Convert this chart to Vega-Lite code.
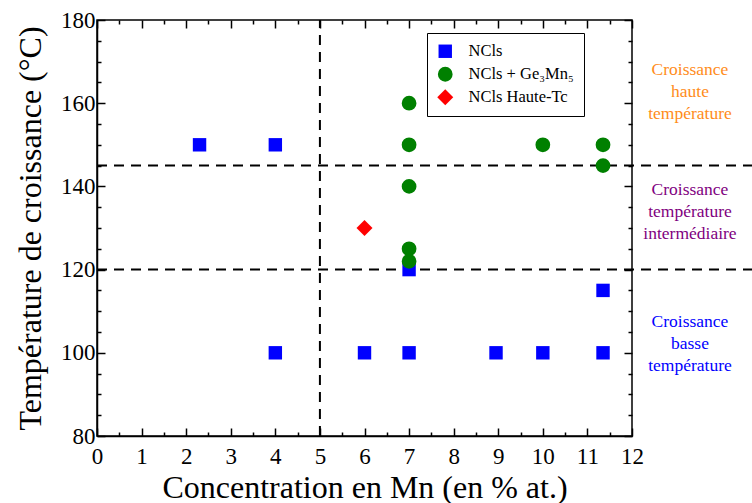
{
  "$schema": "https://vega.github.io/schema/vega-lite/v6.json",
  "width": 535,
  "height": 416,
  "autosize": {"type": "none"},
  "padding": {"left": 97, "top": 20, "right": 120, "bottom": 67},
  "background": "white",
  "config": {
    "view": {"stroke": "black", "strokeWidth": 1.5},
    "font": "Liberation Serif",
    "axis": {
      "grid": false,
      "domainColor": "black",
      "domainWidth": 1.5,
      "tickColor": "black",
      "tickWidth": 1.5,
      "labelColor": "black",
      "labelFont": "Liberation Serif",
      "labelFontSize": 23,
      "titleFont": "Liberation Serif",
      "titleFontSize": 32,
      "titleFontWeight": "normal",
      "titleColor": "black"
    },
    "legend": {
      "orient": "none", "legendX": 330, "legendY": 13,
      "strokeColor": "black", "fillColor": "white", "padding": 10,
      "labelFont": "Liberation Serif", "labelFontSize": 16.5, "labelColor": "black",
      "rowPadding": 6, "labelOffset": 15, "symbolOpacity": 1, "symbolStrokeWidth": 0
    }
  },
  "resolve": {"axis": {"x": "independent", "y": "independent"}},
  "layer": [
    {
      "data": {"values": [{"t": 120}, {"t": 145}]},
      "mark": {"type": "rule", "strokeDash": [10, 7], "strokeWidth": 2, "color": "black", "clip": false},
      "encoding": {
        "y": {"field": "t", "type": "quantitative", "axis": null},
        "x": {"datum": 0, "type": "quantitative", "axis": null},
        "x2": {"datum": 14.7}
      }
    },
    {
      "data": {"values": [{"c": 5}]},
      "mark": {"type": "rule", "strokeDash": [10, 7], "strokeWidth": 2, "color": "black"},
      "encoding": {
        "x": {"field": "c", "type": "quantitative", "axis": null},
        "y": {"datum": 80, "type": "quantitative", "axis": null},
        "y2": {"datum": 180}
      }
    },
    {
      "data": {
        "values": [
          {"mn": 2.3, "temp": 150, "type": "NCls"},
          {"mn": 4.0, "temp": 150, "type": "NCls"},
          {"mn": 4.0, "temp": 100, "type": "NCls"},
          {"mn": 6.0, "temp": 100, "type": "NCls"},
          {"mn": 7.0, "temp": 100, "type": "NCls"},
          {"mn": 7.0, "temp": 120, "type": "NCls"},
          {"mn": 8.95, "temp": 100, "type": "NCls"},
          {"mn": 10.0, "temp": 100, "type": "NCls"},
          {"mn": 11.35, "temp": 100, "type": "NCls"},
          {"mn": 11.35, "temp": 115, "type": "NCls"},
          {"mn": 7.0, "temp": 160, "type": "NCls + Ge₃Mn₅"},
          {"mn": 7.0, "temp": 150, "type": "NCls + Ge₃Mn₅"},
          {"mn": 7.0, "temp": 140, "type": "NCls + Ge₃Mn₅"},
          {"mn": 7.0, "temp": 125, "type": "NCls + Ge₃Mn₅"},
          {"mn": 7.0, "temp": 122, "type": "NCls + Ge₃Mn₅"},
          {"mn": 10.0, "temp": 150, "type": "NCls + Ge₃Mn₅"},
          {"mn": 11.35, "temp": 150, "type": "NCls + Ge₃Mn₅"},
          {"mn": 11.35, "temp": 145, "type": "NCls + Ge₃Mn₅"},
          {"mn": 6.0, "temp": 130, "type": "NCls Haute-Tc"}
        ]
      },
      "mark": {"type": "point", "filled": true, "opacity": 1},
      "encoding": {
        "x": {
          "field": "mn", "type": "quantitative",
          "scale": {"domain": [0, 12], "nice": false, "zero": false},
          "axis": {
            "orient": "bottom",
            "title": "Concentration en Mn (en % at.)",
            "values": [0,0.5,1,1.5,2,2.5,3,3.5,4,4.5,5,5.5,6,6.5,7,7.5,8,8.5,9,9.5,10,10.5,11,11.5,12],
            "labelExpr": "datum.value % 1 === 0 ? format(datum.value, 'd') : ''",
            "tickSize": {"condition": {"test": "datum.value % 1 === 0", "value": -8}, "value": -4},
            "labelPadding": 17,
            "labelFlush": false,
            "labelOverlap": false,
            "titlePadding": 0
          }
        },
        "y": {
          "field": "temp", "type": "quantitative",
          "scale": {"domain": [80, 180], "nice": false, "zero": false},
          "axis": {
            "orient": "left",
            "title": "Température de croissance (°C)",
            "values": [80,85,90,95,100,105,110,115,120,125,130,135,140,145,150,155,160,165,170,175,180],
            "labelExpr": "datum.value % 20 === 0 ? format(datum.value, 'd') : ''",
            "tickSize": {"condition": {"test": "datum.value % 20 === 0", "value": -8}, "value": -4},
            "labelPadding": 10,
            "labelFlush": false,
            "labelOverlap": false,
            "titlePadding": 13
          }
        },
        "color": {
          "field": "type", "type": "nominal",
          "scale": {"domain": ["NCls", "NCls + Ge₃Mn₅", "NCls Haute-Tc"], "range": ["#0000ff", "#008000", "#ff0000"]},
          "legend": {"title": null}
        },
        "shape": {
          "field": "type", "type": "nominal",
          "scale": {"domain": ["NCls", "NCls + Ge₃Mn₅", "NCls Haute-Tc"], "range": ["square", "circle", "diamond"]},
          "legend": {"title": null}
        },
        "size": {
          "field": "type", "type": "nominal",
          "scale": {"domain": ["NCls", "NCls + Ge₃Mn₅", "NCls Haute-Tc"], "range": [180, 256, 380]},
          "legend": {"title": null}
        }
      }
    },
    {
      "data": {"values": [{"xt": 13.3, "yt": 168.0, "label": "Croissance\nhaute\ntempérature"}]},
      "mark": {"type": "text", "lineBreak": "\n", "lineHeight": 22, "fontSize": 17.5, "font": "Liberation Serif", "align": "center", "baseline": "middle", "color": "#ff8c1a"},
      "encoding": {
        "x": {
          "field": "xt", "type": "quantitative",
          "axis": {
            "orient": "top", "title": null, "labels": false, "domain": false,
            "values": [0,0.5,1,1.5,2,2.5,3,3.5,4,4.5,5,5.5,6,6.5,7,7.5,8,8.5,9,9.5,10,10.5,11,11.5,12],
            "tickSize": {"condition": {"test": "datum.value % 1 === 0", "value": -8}, "value": -4}
          }
        },
        "y": {
          "field": "yt", "type": "quantitative",
          "axis": {
            "orient": "right", "title": null, "labels": false, "domain": false,
            "values": [80,85,90,95,100,105,110,115,120,125,130,135,140,145,150,155,160,165,170,175,180],
            "tickSize": {"condition": {"test": "datum.value % 20 === 0", "value": -8}, "value": -4}
          }
        },
        "text": {"field": "label"}
      }
    },
    {
      "data": {"values": [{"xt": 13.3, "yt": 139.1, "label": "Croissance\ntempérature\nintermédiaire"}]},
      "mark": {"type": "text", "lineBreak": "\n", "lineHeight": 22, "fontSize": 17.5, "font": "Liberation Serif", "align": "center", "baseline": "middle", "color": "#800080"},
      "encoding": {
        "x": {"field": "xt", "type": "quantitative", "axis": null},
        "y": {"field": "yt", "type": "quantitative", "axis": null},
        "text": {"field": "label"}
      }
    },
    {
      "data": {"values": [{"xt": 13.3, "yt": 107.4, "label": "Croissance\nbasse\ntempérature"}]},
      "mark": {"type": "text", "lineBreak": "\n", "lineHeight": 22, "fontSize": 17.5, "font": "Liberation Serif", "align": "center", "baseline": "middle", "color": "#0000ff"},
      "encoding": {
        "x": {"field": "xt", "type": "quantitative", "axis": null},
        "y": {"field": "yt", "type": "quantitative", "axis": null},
        "text": {"field": "label"}
      }
    }
  ]
}
